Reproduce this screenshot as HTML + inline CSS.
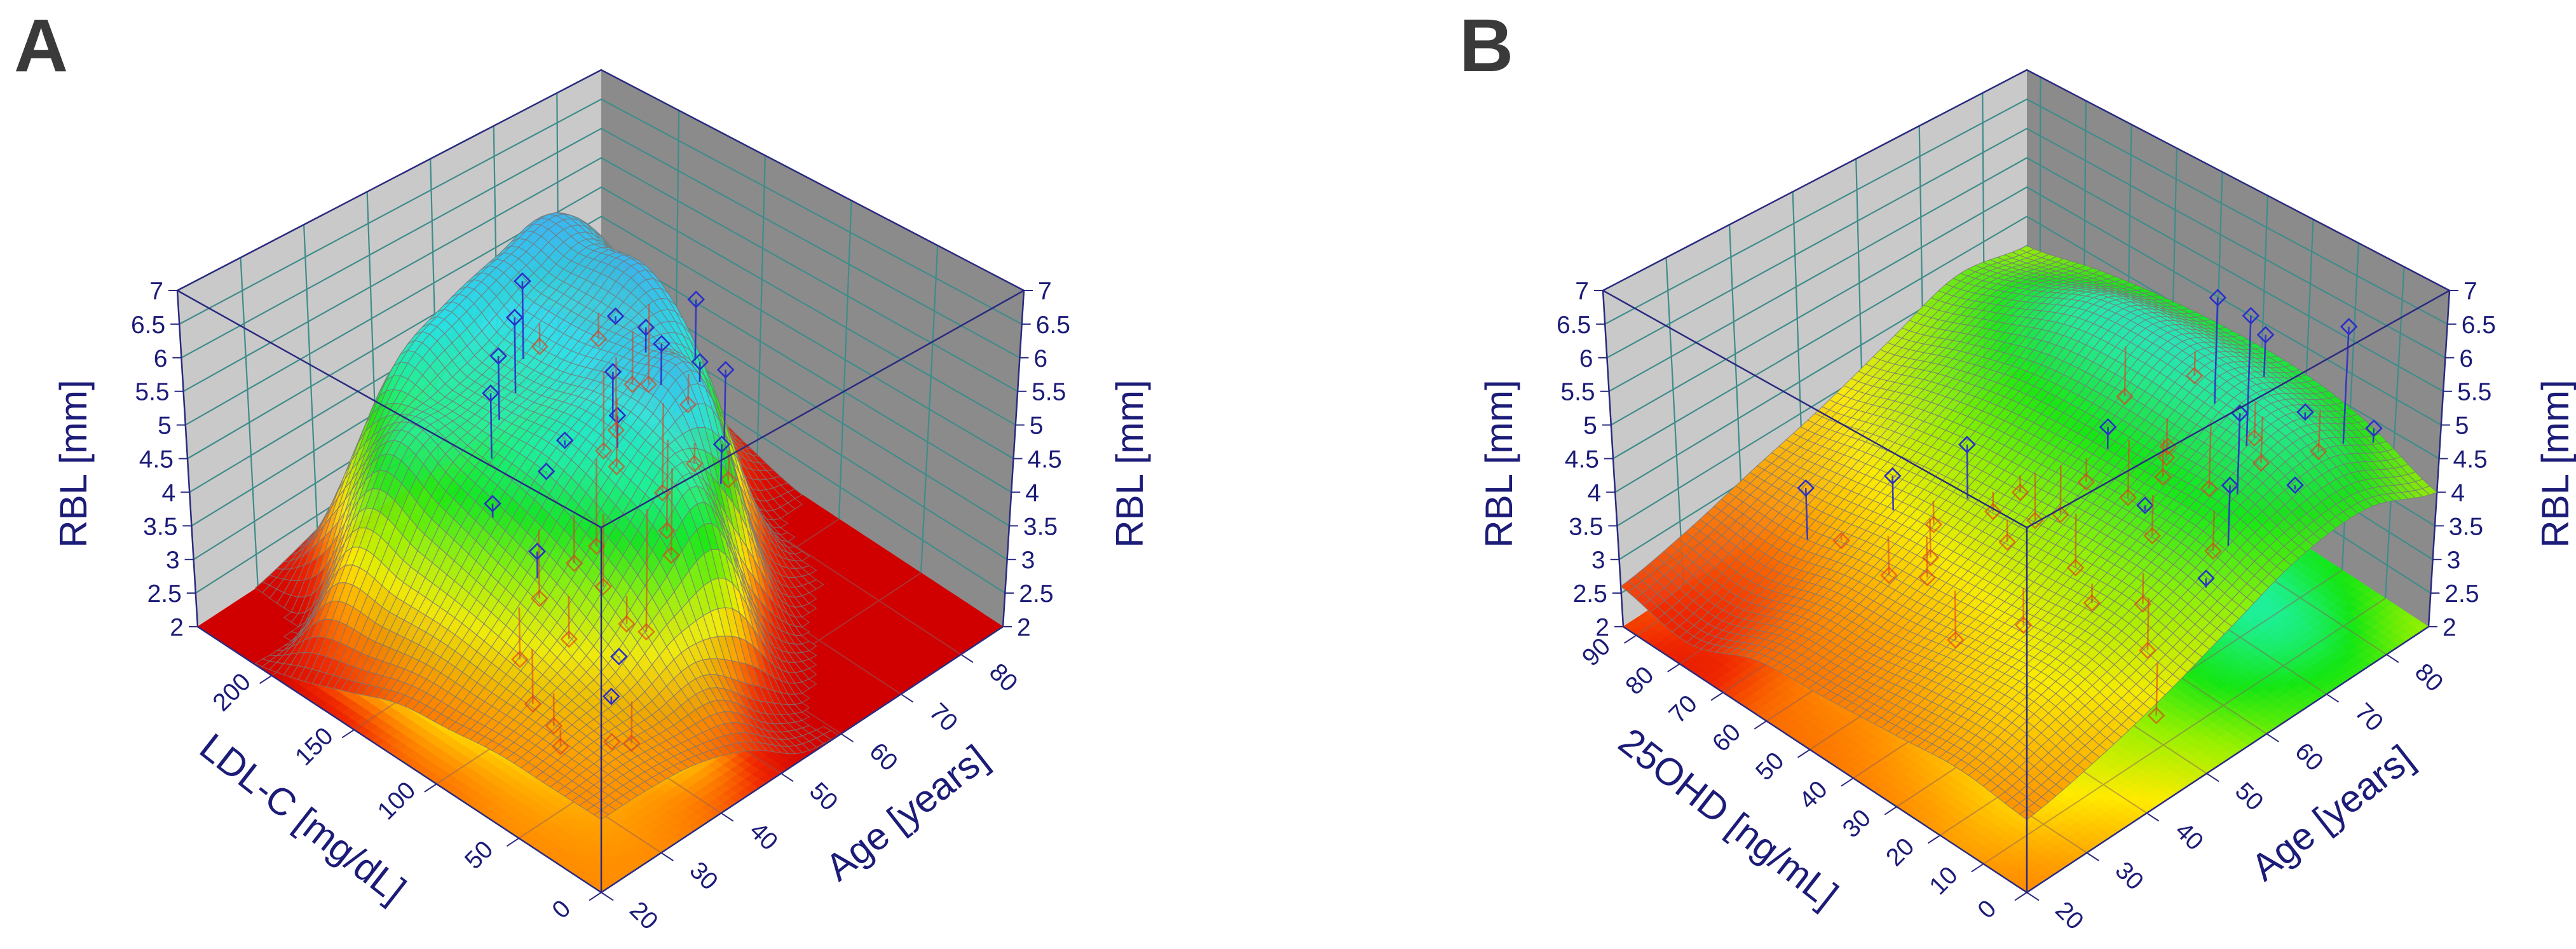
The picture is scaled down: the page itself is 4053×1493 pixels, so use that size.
<!DOCTYPE html>
<html><head><meta charset="utf-8">
<style>
html,body{margin:0;padding:0;background:#fff;}
svg{display:block;}
text{font-family:"Liberation Sans",Arial,sans-serif;fill:#1c1c78;}
</style></head>
<body>
<svg id="chart" width="4053" height="1493" viewBox="0 0 4053 1493" xmlns="http://www.w3.org/2000/svg">
<text x="22" y="112" style="font-size:118px;font-weight:bold;fill:#3a3a3a">A</text>
<text x="2296" y="112" style="font-size:118px;font-weight:bold;fill:#3a3a3a">B</text>
<g id="pa"></g>
<g id="pb"></g>
</svg>
<script>
// ---------- Panel A data ----------
const ldlRangeA = [0, 245];
const ageRange = [20, 87];
const rblRange = [2, 7];
const ldlTicksA = [0, 50, 100, 150, 200];
const ageTicks = [20, 30, 40, 50, 60, 70, 80];
const rblTicks = [2, 2.5, 3, 3.5, 4, 4.5, 5, 5.5, 6, 6.5, 7];
// surface control grid: rows = LDL (0..245, 9 steps), cols = age (20..87, 9 steps)
const surfA0 = [3.0, 3.0, 2.9, 2.6, 2.1, 2.0, 2.0, 2.0, 2.0];
const surfA1 = [3.0, 3.1, 3.1, 3.2, 2.6, 2.0, 2.0, 2.0, 2.0];
const surfA2 = [3.0, 3.2, 3.5, 4.2, 4.8, 3.0, 2.0, 2.0, 2.0];
const surfA3 = [2.9, 3.3, 3.9, 4.7, 5.4, 5.6, 3.0, 2.0, 2.0];
const surfA4 = [2.8, 3.4, 4.2, 5.0, 5.5, 5.8, 5.0, 2.4, 2.0];
const surfA5 = [2.5, 3.4, 4.5, 5.0, 5.3, 5.8, 6.0, 3.5, 2.2];
const surfA6 = [2.2, 3.4, 4.8, 5.0, 5.3, 5.8, 6.0, 4.5, 2.5];
const surfA7 = [2.0, 2.0, 3.6, 5.0, 5.5, 5.8, 6.0, 5.0, 3.0];
const surfA8 = [2.0, 2.0, 2.2, 2.5, 3.0, 3.5, 4.0, 3.5, 2.5];
const ptsA_ldl = [130,145,120,110,100,95,85,75,155,160,100,85,65,120,135,110,95,130,75,55,45,40,30,170,175,85,100,120,110,145,130,95,75,100,85,65,50,140,120,155,105,115,90,80,100];
const ptsA_age = [38,42,47,52,57,60,64,52,46,50,43,38,42,60,62,66,66,56,48,38,34,36,30,54,58,54,50,44,40,62,58,56,60,34,32,30,27,66,68,62,48,54,45,57,37];
const ptsA_rbl = [4.6,5.8,5.2,6.1,6.4,5.4,4.2,3.9,6.0,6.3,3.9,3.3,3.6,6.2,5.0,5.5,5.6,4.4,3.0,3.5,3.3,2.6,3.1,6.5,5.2,4.0,5.7,4.9,3.4,5.9,4.6,4.3,5.1,3.0,2.7,2.8,2.9,4.7,6.2,5.4,3.8,4.5,3.6,4.9,4.4];

// ---------- Panel B data ----------
const ohdRangeB = [0, 93];
const ohdTicksB = [0, 10, 20, 30, 40, 50, 60, 70, 80, 90];
const surfB0 = [3.0, 3.2, 3.5, 3.9, 4.3, 4.4, 4.0];
const surfB1 = [3.1, 3.4, 3.7, 4.1, 4.6, 4.9, 4.4];
const surfB2 = [3.0, 3.3, 3.6, 4.1, 4.6, 5.1, 4.6];
const surfB3 = [2.9, 3.1, 3.5, 4.0, 4.6, 5.2, 4.6];
const surfB4 = [2.8, 3.0, 3.4, 3.9, 4.5, 5.1, 4.5];
const surfB5 = [2.4, 2.7, 3.2, 3.7, 4.2, 4.6, 4.3];
const surfB6 = [2.6, 2.8, 3.1, 3.4, 3.8, 4.2, 4.0];
const ptsB_ohd = [10,15,20,25,30,35,40,45,50,55,60,65,70,75,12,18,22,28,32,38,42,48,52,58,62,8,14,24,34,44,5,9,16,26,36,46,56,20,30,40,50,27,33,12,18];
const ptsB_age = [60,65,70,75,72,68,62,58,55,50,48,45,40,38,80,78,74,70,66,64,60,56,52,46,42,55,50,48,44,40,45,70,62,58,54,50,44,82,80,76,72,60,66,85,52];
const ptsB_rbl = [5.2,5.8,6.8,4.5,6.6,4.2,4.8,3.5,3.8,4.6,3.3,4.0,3.1,3.8,6.4,5.0,4.3,3.9,4.6,3.7,4.0,3.4,3.6,3.0,2.8,4.2,3.2,3.6,3.1,2.7,2.9,4.7,3.9,4.4,3.3,3.5,2.9,4.1,5.6,4.8,4.3,3.8,4.1,4.6,3.6];

// ---------- geometry ----------
const NS = "http://www.w3.org/2000/svg";
const CORN = {F0:[946,1404],L0:[311,986],R0:[1578,986],B0:[946,571],F1:[946,830],L1:[279,457],R1:[1611,457],B1:[946,110]};
function P(dx,u,v,w){
  const b=(k)=>((1-u)*(1-v)*CORN.F0[k]+u*(1-v)*CORN.L0[k]+(1-u)*v*CORN.R0[k]+u*v*CORN.B0[k]);
  const t=(k)=>((1-u)*(1-v)*CORN.F1[k]+u*(1-v)*CORN.L1[k]+(1-u)*v*CORN.R1[k]+u*v*CORN.B1[k]);
  return [(1-w)*b(0)+w*t(0)+dx,(1-w)*b(1)+w*t(1)];
}
function el(parent,tag,attrs){const e=document.createElementNS(NS,tag);for(const k in attrs)e.setAttribute(k,attrs[k]);parent.appendChild(e);return e;}
const stops=[[2.0,[208,0,0]],[2.5,[240,40,0]],[3.0,[255,140,0]],[3.5,[255,235,0]],[4.0,[150,240,0]],[4.5,[20,230,20]],[5.0,[30,240,150]],[5.5,[40,225,235]],[6.2,[60,180,240]],[7.0,[60,110,240]]];
function cmap(z){
  if(z<=stops[0][0])return 'rgb('+stops[0][1]+')';
  for(let i=1;i<stops.length;i++){if(z<=stops[i][0]){const a=stops[i-1],b=stops[i],t=(z-a[0])/(b[0]-a[0]);
    return 'rgb('+[0,1,2].map(k=>Math.round(a[1][k]+(b[1][k]-a[1][k])*t)).join(',')+')';}}
  return 'rgb('+stops[stops.length-1][1]+')';
}
function cr(p0,p1,p2,p3,t){return 0.5*((2*p1)+(-p0+p2)*t+(2*p0-5*p1+4*p2-p3)*t*t+(-p0+3*p1-3*p2+p3)*t*t*t);}
function surfFn(grid){
  const n=grid.length,m=grid[0].length;
  const g=(i,j)=>grid[Math.max(0,Math.min(n-1,i))][Math.max(0,Math.min(m-1,j))];
  return function(u,v){
    const x=u*(n-1),y=v*(m-1);const i=Math.min(n-2,Math.floor(x)),j=Math.min(m-2,Math.floor(y));const tx=x-i,ty=y-j;
    const r=[-1,0,1,2].map(d=>cr(g(i+d,j-1),g(i+d,j),g(i+d,j+1),g(i+d,j+2),ty));
    return Math.max(2,Math.min(7,cr(r[0],r[1],r[2],r[3],tx)));
  };
}

function drawPanel(g,dx,cfg){
  const uS=x=>(x-cfg.uRange[0])/(cfg.uRange[1]-cfg.uRange[0]);
  const vS=x=>(x-ageRange[0])/(ageRange[1]-ageRange[0]);
  const wS=x=>(x-rblRange[0])/(rblRange[1]-rblRange[0]);
  const pt=(u,v,w)=>P(dx,u,v,w);
  const poly=(ps)=>ps.map(p=>p[0].toFixed(1)+','+p[1].toFixed(1)).join(' ');
  const f=surfFn(cfg.surf);
  const lw=el(g,'polygon',{points:poly([pt(1,0,0),pt(1,1,0),pt(1,1,1),pt(1,0,1)]),fill:'#c9c9c9'});
  
  
  const rw=el(g,'polygon',{points:poly([pt(0,1,0),pt(1,1,0),pt(1,1,1),pt(0,1,1)]),fill:'#8b8b8b'});
  
  
  const grid=el(g,'g',{stroke:'#3f8c8a','stroke-width':2.2,fill:'none'});
  
  
  rblTicks.slice(1,-1).forEach(t=>{const w=wS(t);
    el(grid,'polyline',{points:poly([pt(1,0,w),pt(1,1,w),pt(0,1,w)])});});
  ageTicks.slice(1).forEach(t=>{const v=vS(t);el(grid,'line',{x1:pt(1,v,0)[0],y1:pt(1,v,0)[1],x2:pt(1,v,1)[0],y2:pt(1,v,1)[1]});});
  cfg.uTicks.slice(1).forEach(t=>{const u=uS(t);el(grid,'line',{x1:pt(u,1,0)[0],y1:pt(u,1,0)[1],x2:pt(u,1,1)[0],y2:pt(u,1,1)[1]});});
  const be=el(g,'polyline',{points:poly([pt(1,0,0),pt(1,0,1),pt(1,1,1),pt(0,1,1),pt(0,1,0)]),fill:'none',stroke:'#2a2a80','stroke-width':2.5});
  
  
  const N=56;
  const floor=el(g,'g',{});
  
  
  for(let i=0;i<N;i++)for(let j=0;j<N;j++){
    const u0=i/N,u1=(i+1)/N,v0=j/N,v1=(j+1)/N;const z=f((u0+u1)/2,(v0+v1)/2);const c=cmap(z);
    el(floor,'polygon',{points:poly([pt(u0,v0,0),pt(u1,v0,0),pt(u1,v1,0),pt(u0,v1,0)]),fill:c,stroke:c,'stroke-width':1});
  }
  const fg=el(g,'g',{stroke:'#8a6060','stroke-width':2,opacity:0.5});
  
  
  ageTicks.slice(1).forEach(t=>{const v=vS(t);el(fg,'line',{x1:pt(0,v,0)[0],y1:pt(0,v,0)[1],x2:pt(1,v,0)[0],y2:pt(1,v,0)[1]});});
  cfg.uTicks.slice(1).forEach(t=>{const u=uS(t);el(fg,'line',{x1:pt(u,0,0)[0],y1:pt(u,0,0)[1],x2:pt(u,1,0)[0],y2:pt(u,1,0)[1]});});
  const surf=el(g,'g',{stroke:'#777','stroke-width':1.2,'stroke-opacity':0.7});
  
  
  const cells=[];
  for(let i=0;i<N;i++)for(let j=0;j<N;j++)cells.push([i,j]);
  cells.sort((a,b)=>(b[0]+b[1])-(a[0]+a[1]));
  cells.forEach(([i,j])=>{
    const u0=i/N,u1=(i+1)/N,v0=j/N,v1=(j+1)/N;
    const z00=f(u0,v0),z10=f(u1,v0),z11=f(u1,v1),z01=f(u0,v1);
    if(Math.max(z00,z10,z11,z01)<=2.02)return;
    el(surf,'polygon',{points:poly([pt(u0,v0,wS(z00)),pt(u1,v0,wS(z10)),pt(u1,v1,wS(z11)),pt(u0,v1,wS(z01))]),fill:cmap((z00+z10+z11+z01)/4),'fill-opacity':0.93});
  });
  const pg=el(g,'g',{fill:'none','stroke-width':2.6});
  
  
  for(let k=0;k<cfg.px.length;k++){
    const u=uS(cfg.px[k]),v=vS(cfg.py[k]),zs=f(u,v),zp=cfg.pz[k];
    const above=zp>=zs;const col=above?'#2a2fc8':'#e0401a';
    const a=pt(u,v,wS(zp)),b=pt(u,v,wS(zs));
    const s=el(pg,'line',{x1:a[0],y1:a[1],x2:b[0],y2:b[1],stroke:col,'stroke-opacity':above?0.9:0.6});
    
    
    const r=12;
    const d=el(pg,'polygon',{points:poly([[a[0],a[1]-r],[a[0]+r,a[1]],[a[0],a[1]+r],[a[0]-r,a[1]]]),stroke:col,'stroke-opacity':above?1:0.65});
    
    
  }
  const fe=el(g,'g',{stroke:'#2a2a80','stroke-width':2.5,fill:'none'});
  
  
  el(fe,'polyline',{points:poly([pt(1,0,1),pt(0,0,1),pt(0,1,1)])});
  el(fe,'line',{x1:pt(0,0,0)[0],y1:pt(0,0,0)[1],x2:pt(0,0,1)[0],y2:pt(0,0,1)[1]});
  el(fe,'polyline',{points:poly([pt(1,0,0),pt(0,0,0),pt(0,1,0)])});
  const ax=el(g,'g',{});
  
  
  rblTicks.forEach(t=>{const w=wS(t);
    const l=pt(1,0,w),r=pt(0,1,w);
    el(ax,'line',{x1:l[0]-14,y1:l[1],x2:l[0],y2:l[1],stroke:'#2a2a80','stroke-width':2});
    el(ax,'line',{x1:r[0],y1:r[1],x2:r[0]+14,y2:r[1],stroke:'#2a2a80','stroke-width':2});
    const tl=el(ax,'text',{x:l[0]-22,y:l[1]+14,'text-anchor':'end','font-size':39});tl.textContent=String(t);
    
    
    const tr=el(ax,'text',{x:r[0]+22,y:r[1]+14,'text-anchor':'start','font-size':39});tr.textContent=String(t);
    
    
  });
  const ym=(pt(1,0,0)[1]+pt(1,0,1)[1])/2;
  const t1=el(ax,'text',{x:0,y:0,'text-anchor':'middle','font-size':60,transform:'translate('+(dx+136)+','+(ym+8)+') rotate(-90)'});t1.textContent='RBL [mm]';
  
  
  const t2=el(ax,'text',{x:0,y:0,'text-anchor':'middle','font-size':60,transform:'translate('+(dx+1798)+','+(ym+8)+') rotate(-90)'});t2.textContent='RBL [mm]';
  
  
  cfg.uTicks.forEach(t=>{const u=uS(t);const a=pt(u,0,0),b=pt(u,-0.03,0),c=pt(u,-0.085,0);
    el(ax,'line',{x1:a[0],y1:a[1],x2:b[0],y2:b[1],stroke:'#2a2a80','stroke-width':2});
    const tx=el(ax,'text',{x:0,y:0,'text-anchor':'middle','font-size':39,transform:'translate('+c[0]+','+c[1]+') rotate(-45)'});tx.textContent=String(t);
    
    
  });
  ageTicks.forEach(t=>{const v=vS(t);const a=pt(0,v,0),b=pt(-0.03,v,0),c=pt(-0.085,v,0);
    el(ax,'line',{x1:a[0],y1:a[1],x2:b[0],y2:b[1],stroke:'#2a2a80','stroke-width':2});
    const tx=el(ax,'text',{x:0,y:0,'text-anchor':'middle','font-size':39,transform:'translate('+(c[0]+4)+','+(c[1]+10)+') rotate(45)'});tx.textContent=String(t);
    
    
  });
  const xt=pt(0.5,-0.26,0);
  const xtl=el(ax,'text',{x:0,y:0,'text-anchor':'middle','font-size':60,transform:'translate('+xt[0]+','+xt[1]+') rotate(38)'});xtl.textContent=cfg.uTitle;
  
  
  const yt=pt(-0.26,0.52,0);
  const ytl=el(ax,'text',{x:0,y:0,'text-anchor':'middle','font-size':60,transform:'translate('+yt[0]+','+yt[1]+') rotate(-38)'});ytl.textContent='Age [years]';
  
  
}
drawPanel(document.getElementById('pa'),0,{uRange:ldlRangeA,uTicks:ldlTicksA,uTitle:'LDL-C [mg/dL]',surf:[surfA0,surfA1,surfA2,surfA3,surfA4,surfA5,surfA6,surfA7,surfA8],px:ptsA_ldl,py:ptsA_age,pz:ptsA_rbl});
drawPanel(document.getElementById('pb'),2243,{uRange:ohdRangeB,uTicks:ohdTicksB,uTitle:'25OHD [ng/mL]',surf:[surfB0,surfB1,surfB2,surfB3,surfB4,surfB5,surfB6],px:ptsB_ohd,py:ptsB_age,pz:ptsB_rbl});
</script>
</body></html>
